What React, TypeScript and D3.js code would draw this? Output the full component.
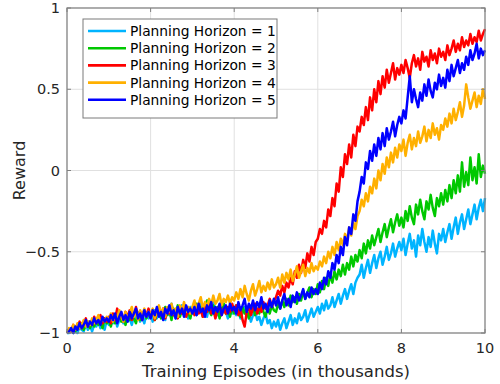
import React, {useEffect, useRef} from 'react';
import * as d3 from 'd3';

// training episodes in thousands, 0..10 step 0.05
const episodes = d3.range(0, 201).map(i => i / 20);

const horizon1 = [
  -1.00, -1.00, -0.97, -1.00, -0.98, -1.00, -0.96, -0.98, -0.99, -0.94, -0.98, -0.95, -0.99, -0.95, -0.96, -0.93, -0.97, -0.94, -0.98, -0.92,
  -0.95, -0.91, -0.94, -0.89, -0.96, -0.92, -0.90, -0.94, -0.88, -0.93, -0.91, -0.95, -0.89, -0.92, -0.87, -0.93, -0.90, -0.94, -0.88, -0.91,
  -0.88, -0.93, -0.86, -0.91, -0.84, -0.90, -0.87, -0.92, -0.85, -0.89, -0.82, -0.88, -0.91, -0.85, -0.89, -0.83, -0.88, -0.86, -0.91, -0.84,
  -0.87, -0.82, -0.89, -0.84, -0.80, -0.88, -0.85, -0.90, -0.83, -0.87, -0.81, -0.86, -0.89, -0.84, -0.88, -0.82, -0.87, -0.91, -0.85, -0.88,
  -0.84, -0.89, -0.86, -0.91, -0.87, -0.84, -0.90, -0.88, -0.93, -0.89, -0.86, -0.92, -0.90, -0.95, -0.91, -0.88, -0.94, -0.92, -0.97, -0.93,
  -0.96, -0.92, -0.98, -0.94, -0.91, -0.97, -0.93, -0.89, -0.95, -0.91, -0.94, -0.88, -0.92, -0.90, -0.86, -0.93, -0.89, -0.85, -0.90, -0.87,
  -0.84, -0.88, -0.82, -0.86, -0.80, -0.85, -0.83, -0.78, -0.84, -0.80, -0.76, -0.82, -0.77, -0.73, -0.79, -0.74, -0.70, -0.76, -0.69, -0.66,
  -0.64, -0.58, -0.66, -0.60, -0.55, -0.63, -0.57, -0.52, -0.60, -0.54, -0.50, -0.58, -0.53, -0.47, -0.55, -0.51, -0.45, -0.53, -0.48, -0.44,
  -0.49, -0.42, -0.52, -0.45, -0.39, -0.48, -0.43, -0.53, -0.40, -0.46, -0.36, -0.44, -0.50, -0.41, -0.47, -0.37, -0.45, -0.51, -0.39, -0.43,
  -0.36, -0.44, -0.38, -0.33, -0.42, -0.35, -0.29, -0.39, -0.32, -0.27, -0.36, -0.30, -0.24, -0.33, -0.27, -0.21, -0.30, -0.23, -0.18, -0.25,
  -0.17
];

const horizon2 = [
  -1.00, -0.98, -0.99, -0.96, -0.99, -0.95, -0.97, -0.94, -0.98, -0.95, -0.93, -0.97, -0.94, -0.96, -0.92, -0.95, -0.93, -0.97, -0.91, -0.94,
  -0.92, -0.96, -0.90, -0.94, -0.91, -0.88, -0.93, -0.90, -0.95, -0.89, -0.92, -0.87, -0.91, -0.94, -0.88, -0.92, -0.89, -0.86, -0.91, -0.88,
  -0.90, -0.86, -0.92, -0.88, -0.85, -0.91, -0.87, -0.84, -0.89, -0.86, -0.92, -0.85, -0.88, -0.83, -0.90, -0.86, -0.89, -0.84, -0.87, -0.91,
  -0.85, -0.88, -0.82, -0.87, -0.84, -0.90, -0.85, -0.80, -0.86, -0.89, -0.83, -0.87, -0.84, -0.91, -0.85, -0.82, -0.88, -0.85, -0.90, -0.84,
  -0.88, -0.83, -0.87, -0.90, -0.84, -0.88, -0.85, -0.91, -0.86, -0.83, -0.89, -0.85, -0.88, -0.82, -0.87, -0.90, -0.84, -0.88, -0.83, -0.86,
  -0.87, -0.82, -0.85, -0.80, -0.84, -0.79, -0.83, -0.77, -0.81, -0.78, -0.82, -0.76, -0.80, -0.74, -0.79, -0.75, -0.72, -0.78, -0.73, -0.76,
  -0.70, -0.75, -0.68, -0.73, -0.66, -0.71, -0.64, -0.69, -0.62, -0.67, -0.61, -0.65, -0.58, -0.64, -0.57, -0.61, -0.53, -0.59, -0.52, -0.56,
  -0.49, -0.54, -0.45, -0.51, -0.43, -0.48, -0.40, -0.46, -0.41, -0.36, -0.44, -0.38, -0.33, -0.41, -0.35, -0.30, -0.38, -0.32, -0.27, -0.34,
  -0.29, -0.35, -0.25, -0.31, -0.22, -0.29, -0.33, -0.21, -0.27, -0.18, -0.25, -0.30, -0.19, -0.24, -0.15, -0.23, -0.28, -0.17, -0.22, -0.14,
  -0.21, -0.12, -0.19, -0.09, -0.17, -0.06, -0.14, -0.03, -0.13, 0.05, -0.10, -0.01, -0.09, 0.08, -0.06, 0.02, -0.08, 0.10, -0.04, 0.03,
  -0.02
];

const horizon3 = [
  -1.00, -0.98, -0.99, -0.95, -0.98, -0.96, -0.93, -0.97, -0.94, -0.91, -0.96, -0.93, -0.95, -0.90, -0.94, -0.92, -0.89, -0.94, -0.91, -0.93,
  -0.90, -0.94, -0.88, -0.92, -0.85, -0.91, -0.88, -0.93, -0.87, -0.90, -0.86, -0.92, -0.89, -0.84, -0.90, -0.87, -0.92, -0.86, -0.89, -0.85,
  -0.90, -0.86, -0.92, -0.87, -0.84, -0.89, -0.85, -0.91, -0.86, -0.88, -0.83, -0.89, -0.86, -0.91, -0.85, -0.88, -0.84, -0.90, -0.86, -0.88,
  -0.85, -0.89, -0.83, -0.88, -0.86, -0.90, -0.84, -0.87, -0.82, -0.88, -0.85, -0.91, -0.86, -0.83, -0.89, -0.85, -0.88, -0.84, -0.87, -0.82,
  -0.86, -0.83, -0.89, -0.85, -0.92, -0.96, -0.87, -0.84, -0.89, -0.85, -0.82, -0.88, -0.84, -0.87, -0.81, -0.85, -0.83, -0.79, -0.84, -0.80,
  -0.78, -0.74, -0.77, -0.71, -0.75, -0.69, -0.72, -0.66, -0.70, -0.62, -0.66, -0.58, -0.63, -0.55, -0.60, -0.51, -0.56, -0.47, -0.52, -0.44,
  -0.42, -0.36, -0.39, -0.31, -0.35, -0.24, -0.28, -0.17, -0.22, -0.08, -0.13, 0.02, -0.04, 0.10, 0.04, 0.16, 0.08, 0.22, 0.15, 0.27,
  0.24, 0.33, 0.28, 0.39, 0.31, 0.45, 0.37, 0.50, 0.42, 0.55, 0.47, 0.58, 0.51, 0.62, 0.54, 0.60, 0.66, 0.56, 0.63, 0.59,
  0.65, 0.60, 0.68, 0.63, 0.57, 0.66, 0.71, 0.64, 0.69, 0.62, 0.73, 0.67, 0.70, 0.64, 0.74, 0.68, 0.72, 0.66, 0.75, 0.70,
  0.73, 0.68, 0.77, 0.71, 0.75, 0.80, 0.73, 0.78, 0.74, 0.82, 0.76, 0.80, 0.77, 0.84, 0.78, 0.82, 0.79, 0.86, 0.80, 0.84,
  0.87
];

const horizon4 = [
  -1.00, -0.97, -0.99, -0.95, -0.98, -0.94, -0.97, -0.95, -0.92, -0.96, -0.93, -0.95, -0.91, -0.94, -0.92, -0.89, -0.94, -0.91, -0.93, -0.90,
  -0.92, -0.88, -0.93, -0.89, -0.91, -0.86, -0.90, -0.93, -0.87, -0.91, -0.88, -0.84, -0.90, -0.87, -0.92, -0.86, -0.89, -0.85, -0.90, -0.87,
  -0.89, -0.85, -0.91, -0.87, -0.83, -0.88, -0.85, -0.90, -0.84, -0.87, -0.82, -0.88, -0.85, -0.90, -0.83, -0.86, -0.81, -0.87, -0.84, -0.88,
  -0.84, -0.80, -0.86, -0.82, -0.78, -0.85, -0.81, -0.84, -0.79, -0.83, -0.77, -0.82, -0.80, -0.76, -0.83, -0.79, -0.81, -0.77, -0.82, -0.78,
  -0.80, -0.75, -0.79, -0.73, -0.78, -0.71, -0.76, -0.80, -0.74, -0.70, -0.77, -0.73, -0.68, -0.75, -0.71, -0.74, -0.69, -0.73, -0.67, -0.72,
  -0.70, -0.66, -0.72, -0.64, -0.69, -0.63, -0.67, -0.61, -0.68, -0.64, -0.59, -0.66, -0.62, -0.58, -0.65, -0.60, -0.63, -0.57, -0.62, -0.59,
  -0.61, -0.56, -0.59, -0.53, -0.57, -0.50, -0.54, -0.47, -0.52, -0.44, -0.49, -0.42, -0.46, -0.39, -0.43, -0.35, -0.40, -0.32, -0.36, -0.28,
  -0.25, -0.18, -0.22, -0.14, -0.19, -0.10, -0.14, -0.05, -0.11, 0.00, -0.06, 0.04, -0.02, 0.08, 0.02, 0.11, 0.05, 0.14, 0.08, 0.16,
  0.12, 0.19, 0.09, 0.17, 0.22, 0.13, 0.20, 0.15, 0.24, 0.17, 0.21, 0.27, 0.18, 0.25, 0.20, 0.29, 0.22, 0.26, 0.19, 0.28,
  0.25, 0.32, 0.27, 0.35, 0.29, 0.38, 0.31, 0.36, 0.42, 0.33, 0.40, 0.53, 0.45, 0.38, 0.43, 0.48, 0.39, 0.46, 0.41, 0.50,
  0.44
];

const horizon5 = [
  -1.00, -0.99, -0.97, -1.00, -0.96, -0.98, -0.94, -0.97, -0.95, -0.92, -0.96, -0.93, -0.95, -0.91, -0.94, -0.92, -0.95, -0.90, -0.93, -0.91,
  -0.93, -0.89, -0.92, -0.88, -0.94, -0.90, -0.87, -0.92, -0.89, -0.93, -0.87, -0.91, -0.88, -0.85, -0.91, -0.88, -0.92, -0.86, -0.90, -0.87,
  -0.91, -0.86, -0.89, -0.84, -0.90, -0.87, -0.92, -0.85, -0.88, -0.83, -0.89, -0.86, -0.91, -0.84, -0.88, -0.85, -0.90, -0.83, -0.87, -0.85,
  -0.88, -0.84, -0.89, -0.82, -0.87, -0.85, -0.90, -0.83, -0.86, -0.81, -0.88, -0.84, -0.87, -0.82, -0.89, -0.85, -0.83, -0.88, -0.82, -0.86,
  -0.84, -0.88, -0.81, -0.86, -0.83, -0.79, -0.87, -0.82, -0.85, -0.80, -0.86, -0.81, -0.84, -0.78, -0.85, -0.82, -0.87, -0.80, -0.84, -0.79,
  -0.83, -0.78, -0.85, -0.80, -0.76, -0.83, -0.79, -0.84, -0.77, -0.81, -0.75, -0.80, -0.77, -0.73, -0.79, -0.75, -0.78, -0.72, -0.76, -0.73,
  -0.76, -0.69, -0.73, -0.66, -0.70, -0.62, -0.66, -0.57, -0.61, -0.52, -0.57, -0.47, -0.52, -0.41, -0.46, -0.35, -0.39, -0.27, -0.31, -0.19,
  -0.13, -0.04, -0.08, 0.05, 0.01, 0.12, 0.06, 0.16, 0.09, 0.20, 0.13, 0.23, 0.15, 0.26, 0.19, 0.24, 0.30, 0.21, 0.28, 0.33,
  0.29, 0.37, 0.32, 0.45, 0.58, 0.42, 0.50, 0.44, 0.39, 0.48, 0.43, 0.53, 0.46, 0.56, 0.49, 0.45, 0.54, 0.50, 0.59, 0.52,
  0.57, 0.51, 0.62, 0.55, 0.65, 0.58, 0.63, 0.68, 0.60, 0.66, 0.62, 0.70, 0.65, 0.74, 0.68, 0.72, 0.78, 0.69, 0.75, 0.71,
  0.74
];

const seriesNames = [
  'Planning Horizon = 1',
  'Planning Horizon = 2',
  'Planning Horizon = 3',
  'Planning Horizon = 4',
  'Planning Horizon = 5'
];
const seriesValues = [horizon1, horizon2, horizon3, horizon4, horizon5];
const seriesColors = ['#00b4ff', '#00c800', '#ff0000', '#ffb000', '#0000ff'];

const xTicks = [0, 2, 4, 6, 8, 10];
const yTicks = [-1, -0.5, 0, 0.5, 1];

const App = () => {
  const ref = useRef<SVGSVGElement>(null);

  useEffect(() => {
    const width = 500;
    const height = 384;
    const margin = {top: 8, right: 15, bottom: 51, left: 67};
    const font = '"DejaVu Sans", sans-serif';

    const svg = d3.select(ref.current);
    svg.selectAll('*').remove();

    const x = d3.scaleLinear()
      .domain([0, 10])
      .range([margin.left, width - margin.right]);

    const y = d3.scaleLinear()
      .domain([-1, 1])
      .range([height - margin.bottom, margin.top]);

    svg.append('rect')
      .attr('width', width).attr('height', height).attr('fill', '#fff');

    // grid
    const grid = svg.append('g').attr('stroke', '#e0e0e0').attr('stroke-width', 1);
    xTicks.forEach(t => grid.append('line')
      .attr('x1', x(t)).attr('x2', x(t)).attr('y1', y(-1)).attr('y2', y(1)));
    yTicks.forEach(t => grid.append('line')
      .attr('x1', x(0)).attr('x2', x(10)).attr('y1', y(t)).attr('y2', y(t)));

    // lines, drawn in order so horizon 5 ends on top
    const line = d3.line<number>()
      .x((d, i) => x(episodes[i]))
      .y(d => y(d));

    seriesValues.forEach((vals, k) => {
      svg.append('path')
        .datum(vals)
        .attr('fill', 'none')
        .attr('stroke', seriesColors[k])
        .attr('stroke-width', 2.5)
        .attr('stroke-linejoin', 'round')
        .attr('d', line);
    });

    // axes box + ticks
    const axisColor = '#808080';
    svg.append('rect')
      .attr('x', x(0)).attr('y', y(1))
      .attr('width', x(10) - x(0)).attr('height', y(-1) - y(1))
      .attr('fill', 'none').attr('stroke', axisColor).attr('stroke-width', 1.2);

    const ticks = svg.append('g').attr('stroke', axisColor).attr('stroke-width', 1);
    xTicks.forEach(t => {
      ticks.append('line').attr('x1', x(t)).attr('x2', x(t)).attr('y1', y(-1)).attr('y2', y(-1) - 4);
      ticks.append('line').attr('x1', x(t)).attr('x2', x(t)).attr('y1', y(1)).attr('y2', y(1) + 4);
    });
    yTicks.forEach(t => {
      ticks.append('line').attr('x1', x(0)).attr('x2', x(0) + 4).attr('y1', y(t)).attr('y2', y(t));
      ticks.append('line').attr('x1', x(10)).attr('x2', x(10) - 4).attr('y1', y(t)).attr('y2', y(t));
    });

    const labels = svg.append('g')
      .attr('font-family', font).attr('font-size', 14.5).attr('fill', '#262626');
    xTicks.forEach(t => labels.append('text')
      .attr('x', x(t)).attr('y', y(-1) + 20)
      .attr('text-anchor', 'middle').text(d3.format('')(t)));
    yTicks.forEach(t => labels.append('text')
      .attr('x', x(0) - 7).attr('y', y(t) + 5)
      .attr('text-anchor', 'end').text(d3.format('')(t)));

    svg.append('text')
      .attr('x', (x(0) + x(10)) / 2).attr('y', height - 7)
      .attr('text-anchor', 'middle')
      .attr('font-family', font).attr('font-size', 16.5).attr('fill', '#262626')
      .text('Training Episodes (in thousands)');

    svg.append('text')
      .attr('transform', `translate(25,${(y(1) + y(-1)) / 2}) rotate(-90)`)
      .attr('text-anchor', 'middle')
      .attr('font-family', font).attr('font-size', 16).attr('fill', '#262626')
      .text('Reward');

    // legend
    const legend = svg.append('g').attr('transform', 'translate(83,19)');
    legend.append('rect')
      .attr('width', 194).attr('height', 99)
      .attr('fill', '#fff').attr('stroke', '#7a7a7a').attr('stroke-width', 1);
    seriesNames.forEach((name, k) => {
      const ly = 12 + k * 17.2;
      legend.append('line')
        .attr('x1', 5).attr('x2', 43).attr('y1', ly).attr('y2', ly)
        .attr('stroke', seriesColors[k]).attr('stroke-width', 2.6);
      legend.append('text')
        .attr('x', 47).attr('y', ly + 5)
        .attr('font-family', font).attr('font-size', 13.8).attr('fill', '#000')
        .text(name);
    });
  }, []);

  return (
    <div style={{position: 'absolute', left: 0, top: 0}}>
      <svg ref={ref} width={500} height={384} style={{display: 'block'}}/>
    </div>
  );
};

export default App;
